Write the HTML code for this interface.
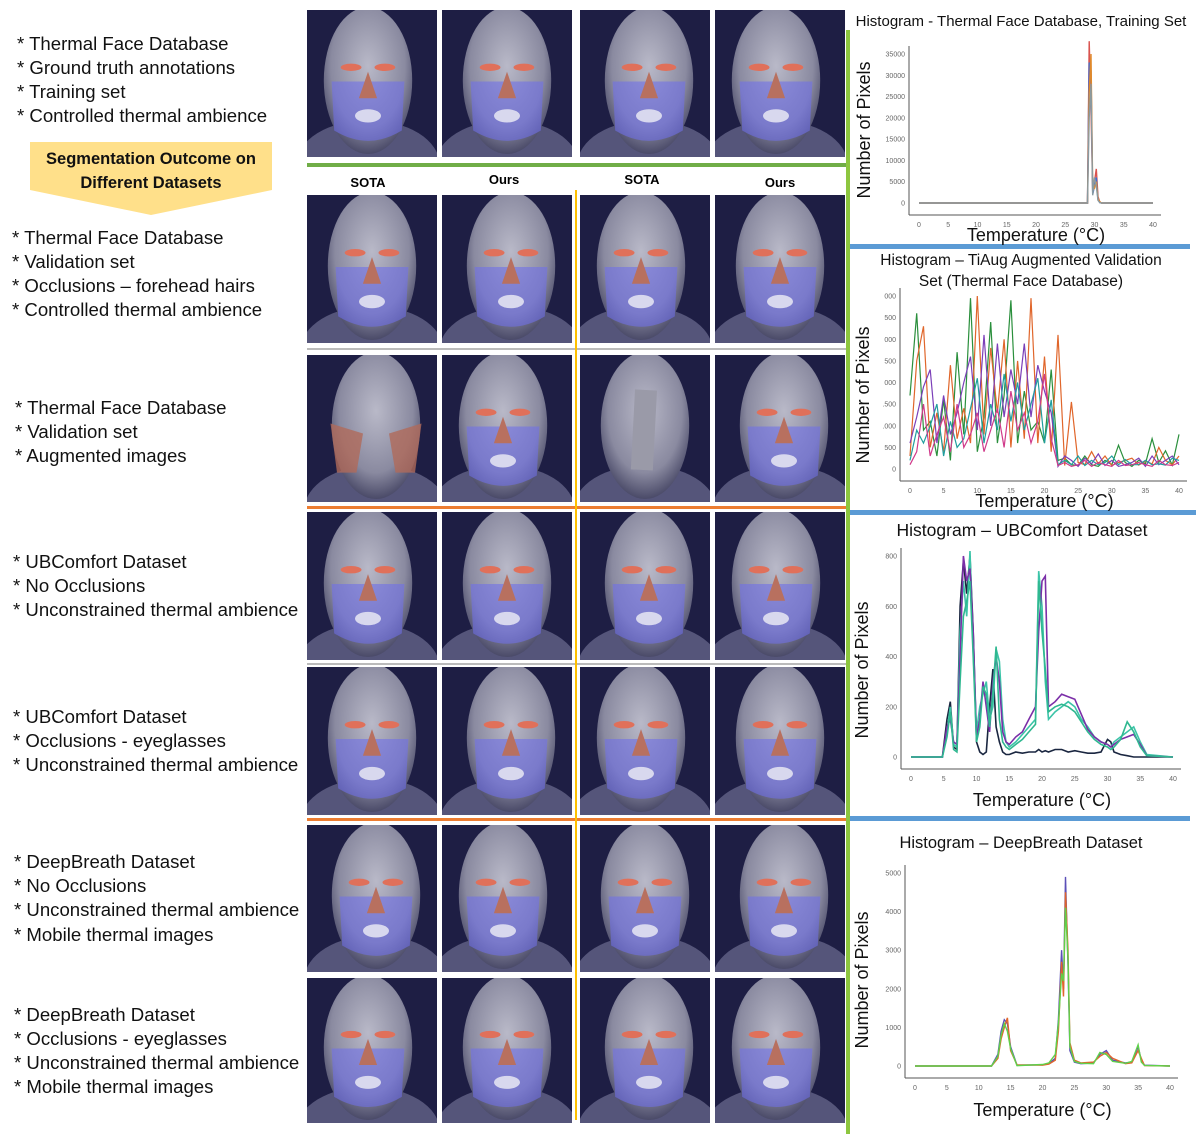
<!DOCTYPE html>
<html><head><meta charset="utf-8"><style>
body{margin:0;background:#fff;font-family:"Liberation Sans",sans-serif}
svg text{font-family:"Liberation Sans",sans-serif}
</style></head><body>
<svg id="fig" width="1201" height="1134" viewBox="0 0 1201 1134" xmlns="http://www.w3.org/2000/svg">
<defs id="defs">
<radialGradient id="headg" cx="50%" cy="40%" r="60%"><stop offset="0" stop-color="#b9b9c8"/><stop offset="0.7" stop-color="#8a8aa0"/><stop offset="1" stop-color="#4a4a68"/></radialGradient>
</defs>
<g id="lefttext" font-size="18.6" fill="#111">
<g><text x="17" y="50">* Thermal Face Database</text><text x="17" y="74">* Ground truth annotations</text><text x="17" y="98">* Training set</text><text x="17" y="122">* Controlled thermal ambience</text></g>
<g><polygon points="30,142 272,142 272,190 151,215 30,190" fill="#ffe08a"/>
<text x="151" y="164" font-size="16.5" font-weight="bold" text-anchor="middle">Segmentation Outcome on</text><text x="151" y="188" font-size="16.5" font-weight="bold" text-anchor="middle">Different Datasets</text></g>
<g><text x="12" y="244">* Thermal Face Database</text><text x="12" y="268">* Validation set</text><text x="12" y="292">* Occlusions – forehead hairs</text><text x="12" y="316">* Controlled thermal ambience</text></g>
<g><text x="15" y="414">* Thermal Face Database</text><text x="15" y="438">* Validation set</text><text x="15" y="462">* Augmented images</text></g>
<g><text x="13" y="568">* UBComfort Dataset</text><text x="13" y="592">* No Occlusions</text><text x="13" y="616">* Unconstrained thermal ambience</text></g>
<g><text x="13" y="723">* UBComfort Dataset</text><text x="13" y="747">* Occlusions - eyeglasses</text><text x="13" y="771">* Unconstrained thermal ambience</text></g>
<g><text x="14" y="868">* DeepBreath Dataset</text><text x="14" y="892">* No Occlusions</text><text x="14" y="916">* Unconstrained thermal ambience</text><text x="14" y="941">* Mobile thermal images</text></g>
<g><text x="14" y="1021">* DeepBreath Dataset</text><text x="14" y="1045">* Occlusions - eyeglasses</text><text x="14" y="1069">* Unconstrained thermal ambience</text><text x="14" y="1093">* Mobile thermal images</text></g>
</g>
<g id="grid"></g>
<g font-size="13" font-weight="bold" text-anchor="middle">
<text x="368" y="187">SOTA</text><text x="504" y="184">Ours</text><text x="642" y="184">SOTA</text><text x="780" y="187">Ours</text></g>
<g>
<rect x="307" y="163" width="540" height="4" fill="#70ad47"/>
<rect x="307" y="348" width="540" height="2" fill="#bbb"/>
<rect x="307" y="506" width="540" height="3" fill="#ed7d31"/>
<rect x="307" y="663" width="540" height="2" fill="#bbb"/>
<rect x="307" y="818" width="540" height="3" fill="#ed7d31"/>
<rect x="575" y="190" width="2" height="930" fill="#ffc000"/>
<rect x="846" y="30" width="4" height="1104" fill="#8dc63f"/>
<rect x="850" y="244" width="340" height="5" fill="#5b9bd5"/>
<rect x="850" y="510" width="346" height="5" fill="#5b9bd5"/>
<rect x="850" y="816" width="340" height="5" fill="#5b9bd5"/>
</g>
<g id="charts"></g>
</svg>
<script>
// ---- chart data ----
const temps1=[0,28.8,29.1,29.4,29.7,30.0,30.3,30.6,30.9,31.2,40];
const h1a=[0,0,38000,22000,2500,5000,8000,1500,200,0,0];
const h1b=[0,0,33000,31000,2000,4000,6000,800,100,0,0];
const h1c=[0,0,26000,35000,3000,3500,5000,1000,300,0,0];
const h1d=[0,0,20000,28000,1800,6000,4000,600,100,0,0];
const temps2=[0,1,2,3,4,5,6,7,8,9,10,11,12,13,14,15,16,17,18,19,20,21,22,23,24,25,26,27,28,29,30,31,32,33,34,35,36,37,38,39,40];
const h2a=[1700,3600,900,1100,300,1600,200,2700,800,3950,400,1200,3400,600,1700,3900,600,1800,900,1100,600,2300,200,250,100,80,300,100,60,200,100,550,150,60,200,120,700,150,420,90,800];
const h2b=[300,2500,3300,500,1300,400,2400,700,1400,600,4000,800,2800,1300,3000,500,2500,700,3950,600,2600,400,3100,80,1550,150,100,400,120,300,80,150,200,250,90,180,120,500,200,100,300];
const h2c=[600,1200,1900,2300,600,1700,800,1300,2000,2600,900,3100,1000,2900,1200,2300,1500,2900,1200,2400,1800,1300,60,300,200,60,250,120,350,80,200,60,100,150,250,60,300,100,200,300,100];
const h2d=[200,900,600,1000,1500,300,1100,500,700,1400,2100,600,1500,900,2200,1100,2000,900,1500,2100,600,1600,100,200,100,300,80,200,100,150,300,100,220,100,100,200,100,120,90,250,200];
const h2e=[100,400,1500,300,800,1200,400,1500,500,800,1300,400,900,1400,500,1800,900,1300,600,1100,2200,700,80,150,60,100,200,60,150,100,60,200,80,100,150,100,60,200,100,80,150];
const temps3=[0,4.8,5.5,6,6.5,7,7.5,8,8.5,9,9.5,10,10.5,11,11.5,12,12.5,13,13.5,14,14.5,15,16,17,18,19,19.5,20,20.5,21,22,23,24,25,26,27,28,29,30,30.5,31,32,33,34,35,36,40];
const h3a=[0,0,150,220,40,30,600,780,650,800,500,60,20,10,20,200,350,120,60,20,10,10,20,15,20,20,30,20,25,20,30,30,20,25,20,15,15,20,70,60,20,10,5,0,0,0,0];
const h3b=[0,0,100,200,50,40,500,700,560,820,420,100,200,250,300,150,200,430,380,150,60,40,60,90,120,150,740,600,300,150,180,200,220,200,150,120,80,60,50,40,60,80,100,120,60,10,0];
const h3c=[0,0,120,150,60,50,400,800,700,750,500,80,150,300,200,100,300,400,300,100,60,50,80,100,150,200,500,700,720,200,220,250,240,230,170,110,80,60,50,40,50,70,80,90,50,5,0];
const h3d=[0,0,80,180,30,20,300,560,620,700,400,60,120,280,250,120,260,440,150,60,40,30,50,70,100,130,700,500,350,180,200,210,200,180,140,100,70,50,40,30,40,70,140,100,40,5,0];
const temps4=[0,12,13,13.5,14,14.5,15,16,20,21,22,22.5,23,23.3,23.6,24,24.3,25,26,28,29,30,31,33,34,35,35.5,36,40];
const h4a=[0,0,300,900,1200,1100,500,20,30,60,200,1200,3000,2000,4900,2600,400,100,60,80,300,400,150,80,100,500,150,20,0];
const h4b=[0,0,200,700,1000,1250,400,30,20,50,150,900,2700,1800,4500,3000,600,150,80,100,250,350,200,60,80,400,200,10,0];
const h4c=[0,0,250,800,1100,900,450,10,40,80,300,1100,2400,2200,4100,2800,500,120,70,60,350,300,120,70,120,550,100,15,0];

const NS="http://www.w3.org/2000/svg";
function mk(tag,attrs,parent){const e=document.createElementNS(NS,tag);for(const k in attrs)e.setAttribute(k,attrs[k]);parent.appendChild(e);return e;}

// ---- face images ----
const grid=document.getElementById('grid');
const defs=document.getElementById('defs');
const rowsY=[[10,157],[195,343],[355,502],[512,660],[667,815],[825,972],[978,1123]];
const colsX=[[307,437],[442,572],[580,710],[715,845]];
rowsY.forEach((r,ri)=>{colsX.forEach((c,ci)=>{
  const x=c[0],y=r[0],w=c[1]-c[0],h=r[1]-r[0];
  const cp=mk('clipPath',{id:'cp'+ri+'_'+ci},defs);
  mk('rect',{x:x,y:y,width:w,height:h},cp);
  const g=mk('g',{'clip-path':'url(#cp'+ri+'_'+ci+')'},grid);
  
  
  mk('rect',{x:x,y:y,width:w,height:h,fill:'#1e1e44'},g);
  const cx=x+w/2+((ri+ci)%3-1)*4, cy=y+h*0.5;
  mk('ellipse',{cx:cx,cy:y+h*1.05,rx:w*0.55,ry:h*0.3,fill:'#55557a'},g);
  mk('ellipse',{cx:cx,cy:cy-3,rx:w*0.34,ry:h*0.5,fill:'url(#headg)'},g);
  const aug=(ri==2&&(ci==0||ci==2));
  if(!aug){
    mk('path',{d:`M${cx-w*0.28},${cy-2} L${cx+w*0.28},${cy-2} L${cx+w*0.26},${cy+h*0.32} Q${cx},${cy+h*0.46} ${cx-w*0.26},${cy+h*0.32} Z`,fill:'#6f70e8','fill-opacity':0.6},g);
    mk('ellipse',{cx:cx-w*0.13,cy:cy-h*0.11,rx:w*0.08,ry:h*0.025,fill:'#e0705a'},g);
    mk('ellipse',{cx:cx+w*0.13,cy:cy-h*0.11,rx:w*0.08,ry:h*0.025,fill:'#e0705a'},g);
    mk('path',{d:`M${cx},${cy-h*0.08} L${cx+w*0.07},${cy+h*0.1} L${cx-w*0.07},${cy+h*0.1} Z`,fill:'#b8705f'},g);
    mk('ellipse',{cx:cx,cy:cy+h*0.22,rx:w*0.1,ry:h*0.045,fill:'#d8d8ee'},g);
  } else if(ci==0){
    mk('path',{d:`M${cx-w*0.35},${cy-5} L${cx-w*0.1},${cy+5} L${cx-w*0.15},${cy+h*0.3} L${cx-w*0.3},${cy+h*0.3} Z`,fill:'#b06a5a','fill-opacity':0.8},g);
    mk('path',{d:`M${cx+w*0.35},${cy-5} L${cx+w*0.1},${cy+5} L${cx+w*0.15},${cy+h*0.3} L${cx+w*0.3},${cy+h*0.3} Z`,fill:'#b06a5a','fill-opacity':0.8},g);
  } else {
    mk('rect',{x:cx-12,y:y+35,width:22,height:80,fill:'#9a9aa8',transform:`rotate(3 ${cx} ${cy})`},g);
  }
});});

// ---- histograms ----
const charts=document.getElementById('charts');
const palette=['#2a8f3c','#e0662b','#7b3fb8','#1f9e9e','#d03a8a','#3b5bd6','#222244','#9ad14a'];
function hist(cfg){
  const g=mk('g',{},charts);
  
  
  const X=v=>cfg.x0+(v-0)/40*(cfg.x1-cfg.x0);
  const Y=v=>cfg.y0-v/cfg.ymax*(cfg.y0-cfg.y1);
  mk('line',{x1:cfg.x0-10,y1:cfg.y0+12,x2:cfg.x1+8,y2:cfg.y0+12,stroke:'#555','stroke-width':1},g);
  mk('line',{x1:cfg.x0-10,y1:cfg.y1-8,x2:cfg.x0-10,y2:cfg.y0+12,stroke:'#555','stroke-width':1},g);
  for(let t=0;t<=40;t+=5){const tx=mk('text',{x:X(t),y:cfg.y0+24,'font-size':7,fill:'#666','text-anchor':'middle'},g);tx.textContent=t;}
  cfg.yticks.forEach((t,i)=>{const tx=mk('text',{x:cfg.x0-14,y:Y(t)+2.5,'font-size':7,fill:'#666','text-anchor':'end'},g);tx.textContent=cfg.ylabels[i];});
  cfg.series.forEach((s,i)=>{
    const d=s.map((v,j)=>(j?'L':'M')+X(cfg.temps[j]).toFixed(1)+','+Y(v).toFixed(1)).join(' ');
    const p=mk('path',{d:d,fill:'none',stroke:cfg.colors[i%cfg.colors.length],'stroke-width':cfg.sw||1.4},g);
    
    
  });
  cfg.title.forEach((t,i)=>{const tx=mk('text',{x:cfg.tx,y:cfg.ty+i*21,'font-size':cfg.tfs,'text-anchor':'middle',fill:'#111'},g);tx.textContent=t;});
  const yl=mk('text',{x:0,y:0,'font-size':18,'text-anchor':'middle',fill:'#111',transform:`translate(${cfg.ylx},${cfg.yly}) rotate(-90)`},g);yl.textContent='Number of Pixels';
  const xl=mk('text',{x:(cfg.x0+cfg.x1)/2,y:cfg.xly,'font-size':18,'text-anchor':'middle',fill:'#111'},g);xl.textContent='Temperature (°C)';
}
hist({name:'histogram-thermal-face-training',x0:919,x1:1153,y0:203,y1:54,ymax:35000,temps:temps1,series:[h1a,h1b,h1c,h1d],colors:['#d9534f','#3b6bd6','#e0892b','#8a9aa0'],
  yticks:[0,5000,10000,15000,20000,25000,30000,35000],ylabels:['0','5000','10000','15000','20000','25000','30000','35000'],
  title:['Histogram - Thermal Face Database, Training Set'],tx:1021,ty:26,tfs:15,ylx:870,yly:130,xly:241});
hist({name:'histogram-tiaug-validation',x0:910,x1:1179,y0:469,y1:296,ymax:4000,temps:temps2,series:[h2a,h2b,h2c,h2d,h2e],colors:palette,sw:1.2,
  yticks:[0,500,1000,1500,2000,2500,3000,3500,4000],ylabels:['0','500','.000','.500','000','500','000','500','000'],
  title:['Histogram – TiAug Augmented Validation','Set (Thermal Face Database)'],tx:1021,ty:265,tfs:15.5,ylx:869,yly:395,xly:507});
hist({name:'histogram-ubcomfort',x0:911,x1:1173,y0:757,y1:556,ymax:800,temps:temps3,series:[h3a,h3b,h3c,h3d],colors:['#1a2640','#3cc4a8','#7b2fa8','#2fb890'],sw:1.6,
  yticks:[0,200,400,600,800],ylabels:['0','200','400','600','800'],
  title:['Histogram – UBComfort Dataset'],tx:1022,ty:536,tfs:17.5,ylx:868,yly:670,xly:806});
hist({name:'histogram-deepbreath',x0:915,x1:1170,y0:1066,y1:873,ymax:5000,temps:temps4,series:[h4a,h4b,h4c],colors:['#5b4fb8','#e0662b','#5fd14a'],sw:1.4,
  yticks:[0,1000,2000,3000,4000,5000],ylabels:['0','1000','2000','3000','4000','5000'],
  title:['Histogram – DeepBreath Dataset'],tx:1021,ty:848,tfs:16.5,ylx:868,yly:980,xly:1116});
</script>
</body></html>
